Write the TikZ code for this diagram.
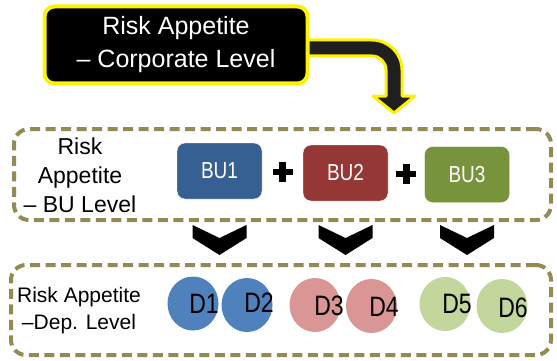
\documentclass[tikz,border=0pt]{standalone}
\usepackage{fontspec}
\setmainfont{Liberation Sans}
\usetikzlibrary{calc,shapes.geometric}

\definecolor{dashol}{RGB}{148,138,84}
\definecolor{buone}{RGB}{54,96,146}
\definecolor{butwo}{RGB}{149,55,53}
\definecolor{buthree}{RGB}{119,147,60}
\definecolor{depblue}{RGB}{79,129,189}
\definecolor{deppink}{RGB}{217,150,148}
\definecolor{depgreen}{RGB}{195,214,155}

\newcommand\tallt[1]{\scalebox{1}[1.22]{#1}}

\tikzset{
    levelbox/.style={draw=dashol, line width=4pt, dash pattern=on 10pt off 5.5pt, rounded corners=15pt},
    bubox/.style={fill=#1, draw=white, rounded corners=8pt, minimum width=85pt, minimum height=56pt, text=white, font=\fontsize{19}{22}\selectfont},
    dep/.style={ellipse, fill=#1, minimum width=51pt, minimum height=54pt, inner sep=0pt},
    deplbl/.style={inner sep=0pt, font=\fontsize{23}{26}\selectfont},
    lvltxt/.style={align=center, inner sep=0pt}
}

\begin{document}
\begin{tikzpicture}[x=1pt,y=-1pt]
        \useasboundingbox (0,0) rectangle (557,361);

        \node[levelbox, minimum width=537pt, minimum height=91pt] (bulevel) at (282.5,174.5) {};
        \node[levelbox, minimum width=540pt, minimum height=90pt] (deplevel) at (281,310) {};

        % bent arrow from the corporate box
        \filldraw[fill=black!88, draw=yellow, line width=3pt, line join=round] (300,40) -- (372,40) arc[start angle=-90, end angle=0, radius=30] -- (402,96) -- (415,96) -- (394,113) -- (373,96) -- (386,96) -- (386,70) arc[start angle=0, end angle=-90, radius=14] -- (300,56) -- cycle;

        \node[fill=black, draw=yellow, line width=4pt, rounded corners=10pt, minimum width=263pt, minimum height=77pt, text=white, align=center, font=\fontsize{25}{33}\selectfont] (corp) at (176,45) {Risk Appetite\\– Corporate Level};

        \node[lvltxt, font=\fontsize{23}{29}\selectfont] (bulbl) at (80,175.5) {Risk\\Appetite\\– BU Level};
        \node[bubox=buone] (bu1) at (219.5,171) {\tallt{BU1}};
        \node[bubox=butwo] (bu2) at (345.5,173) {\tallt{BU2}};
        \node[bubox=buthree] (bu3) at (467,174.5) {\tallt{BU3}};

        \foreach \a/\b in {bu1/bu2, bu2/bu3}
            \draw[line width=6.5pt] ($(\a.east)!0.5!(\b.west)$) ++(-10,0) -- ++(20,0) ++(-10,-10) -- ++(0,20);

        \coordinate (chevy) at (0,225);
        \foreach \b in {bu1,bu2,bu3}
            \fill (\b.south |- chevy) ++(-27,0) -- ++(27,13) -- ++(27,-13) -- ++(0,13) -- ++(-27,17) -- ++(-27,-17) -- cycle;

        \node[lvltxt, font=\fontsize{21}{27}\selectfont] (deplbl) at (79,311) {Risk Appetite\\–Dep. Level};

        \foreach \n/\x/\y/\c/\lx/\ly in {1/193/303.5/depblue/11/0, 2/247/305/depblue/12/-2, 3/315/305/deppink/14/1, 4/371.5/306/deppink/12.5/1, 5/445/304/depgreen/12/0, 6/502/306/depgreen/11/1.5}
        {
            \node[dep=\c] (d\n) at (\x,\y) {};
            \node[deplbl] (lbl\n) at ($(d\n)+(\lx,\ly)$) {\tallt{D\n}};
        }
\end{tikzpicture}
\end{document}
